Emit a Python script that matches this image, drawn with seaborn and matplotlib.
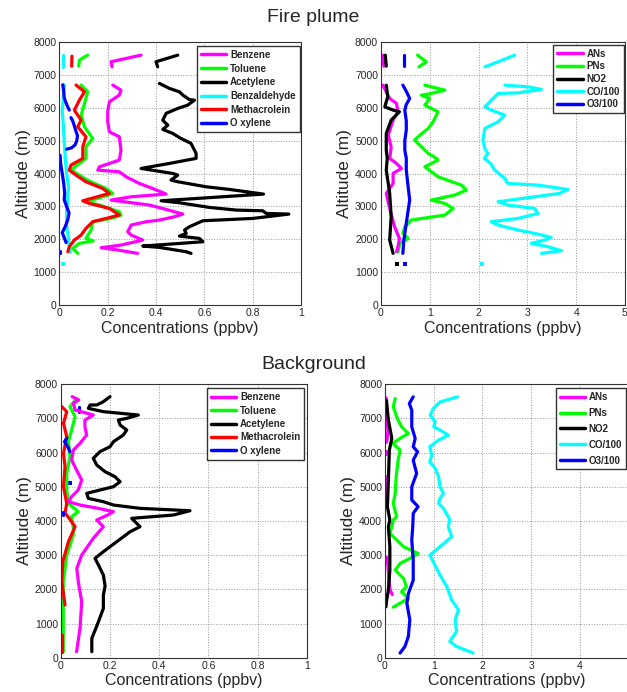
import numpy as np
import pandas as pd
import seaborn as sns
import matplotlib.pyplot as plt
from matplotlib.lines import Line2D

nan = np.nan

# ---- Fire plume, VOCs (ppbv) ; nan separates line pieces ----
fp_benzene_x = [0.338, 0.214, 0.218, nan,
                0.221, 0.255, 0.248, 0.207, 0.200, 0.200, 0.207, 0.248, 0.255, 0.248, 0.166, 0.159,
                0.248, 0.276, 0.331, 0.386, 0.442, 0.297, 0.214, 0.373, 0.442, 0.511, 0.476, 0.414,
                0.359, 0.297, 0.283, 0.297, 0.345, 0.255, 0.173, 0.242, 0.324]
fp_benzene_y = [7600, 7400, 7245, nan,
                6690, 6536, 6384, 6181, 5877, 5573, 5269, 5117, 4712, 4408, 4205, 4103,
                4053, 3901, 3698, 3546, 3374, 3293, 3192, 3040, 2908, 2766, 2685, 2584,
                2533, 2432, 2229, 2128, 1976, 1824, 1743, 1672, 1571]

fp_toluene_x = [0.117, 0.083, 0.080, nan,
                0.090, 0.117, 0.104, 0.090, 0.104, 0.138, 0.110, 0.110, 0.083, 0.048, 0.083, 0.104,
                0.145, 0.193, 0.221, 0.159, 0.110, 0.166, 0.248, 0.255, 0.214, 0.138, 0.131, 0.110,
                0.140, 0.083, 0.055, 0.076]
fp_toluene_y = [7600, 7448, 7265, nan,
                6690, 6485, 6130, 5776, 5421, 5067, 4813, 4459, 4306, 4103, 3951, 3850,
                3698, 3546, 3394, 3242, 3141, 3040, 2837, 2736, 2634, 2533, 2280, 2026,
                1950, 1875, 1723, 1571]

fp_acetylene_x = [0.49, 0.40, 0.407, nan,
                  0.414, 0.455, 0.497, 0.511, 0.538, 0.559, 0.531, 0.49, 0.442, 0.428, 0.449, 0.428,
                  0.469, 0.50, 0.545, 0.566, 0.566, 0.455, 0.338, 0.469, 0.49, 0.462, 0.49, 0.607,
                  0.704, 0.845, 0.421, 0.497, 0.621, 0.732, 0.842, 0.856, 0.950, 0.80, 0.594, 0.538,
                  0.518, 0.525, 0.497, 0.58, 0.594, 0.538, 0.345, 0.414, 0.525, 0.545]
fp_acetylene_y = [7600, 7400, 7245, nan,
                  6740, 6590, 6485, 6385, 6250, 6230, 6080, 5980, 5830, 5620, 5470, 5340,
                  5220, 5080, 4915, 4610, 4460, 4306, 4154, 4002, 3951, 3800, 3750, 3597,
                  3516, 3374, 3171, 3110, 2969, 2888, 2867, 2786, 2766, 2634, 2563, 2381,
                  2280, 2179, 2097, 2026, 1925, 1895, 1794, 1753, 1621, 1571]

fp_benzaldehyde_x = [0.014, 0.014, nan,
                     0.021, 0.016, 0.012, 0.016, 0.020, 0.024, 0.030, 0.038, 0.034, 0.030, 0.030,
                     0.038, 0.045, nan, 0.017]
fp_benzaldehyde_y = [7600, 7245, nan,
                     6690, 6300, 5900, 5500, 5000, 4500, 4000, 3600, 3200, 2800, 2400,
                     2000, 1600, nan, 1247]

fp_methacrolein_x = [0.052, 0.051, nan,
                     0.069, 0.104, 0.083, 0.062, 0.090, 0.076, 0.110, 0.097, 0.097, 0.048, 0.041,
                     0.069, 0.110, 0.179, 0.207, 0.097, 0.124, 0.207, 0.248, 0.138, 0.110, 0.090,
                     0.062, 0.041, 0.035]
fp_methacrolein_y = [7569, 7265, nan,
                     6690, 6485, 6232, 5928, 5624, 5421, 5117, 4813, 4459, 4255, 4103,
                     3951, 3749, 3546, 3394, 3171, 3090, 2938, 2736, 2533, 2331, 2128,
                     1976, 1773, 1621]

fp_oxylene_x = [0.014, 0.018, 0.020, 0.030, 0.041, nan,
                0.048, 0.055, 0.062, 0.068, 0.075, 0.072, 0.065, 0.050, 0.030, nan,
                0.003, 0.005, 0.012, 0.018, 0.022, 0.020, 0.030, 0.040, 0.035, 0.025, 0.012,
                0.020, 0.028, nan, 0.003, 0.003]
fp_oxylene_y = [6700, 6500, 6300, 6100, 5930, nan,
                5700, 5600, 5450, 5300, 5150, 5000, 4870, 4780, 4740, nan,
                4550, 4300, 4000, 3700, 3400, 3200, 3000, 2800, 2600, 2400, 2200,
                2050, 1900, nan, 1650, 1580]

# ---- Fire plume, nitrogen species / CO / O3 ----
fp_ans_x = [0.04, 0.06, nan,
            0.04, 0.18, 0.32, 0.35, 0.25, 0.15, 0.21, 0.18, 0.32, 0.42, 0.25, 0.25, 0.11,
            0.18, 0.28, 0.38, 0.35, 0.32]
fp_ans_y = [7600, 7265, nan,
            6687, 6282, 6130, 5877, 5624, 5168, 4813, 4459, 4306, 4154, 4002, 3698, 3394,
            2938, 2381, 2026, 1773, 1621]

fp_pns_x = [0.75, 0.93, 0.78, nan,
            0.90, 1.31, 1.03, 0.83, 1.00, 0.90, 1.17, 1.07, 0.97, 0.80, 0.69, 0.83, 0.90,
            0.97, 1.14, 1.17, 0.90, 1.17, 1.65, 1.75, 1.51, 1.03, 1.31, 1.48, 1.31, 0.62,
            0.49, 0.45, 0.56, 0.39, 0.35]
fp_pns_y = [7600, 7397, 7245, nan,
            6687, 6536, 6434, 6384, 6282, 6080, 5877, 5573, 5371, 5168, 5016, 4813, 4711,
            4611, 4459, 4407, 4205, 3901, 3647, 3495, 3343, 3192, 3090, 2938, 2736, 2584,
            2381, 2179, 2026, 1875, 1621]

fp_no2_x = [0.09, 0.11, nan,
            0.11, 0.14, 0.08, 0.25, 0.38, 0.21, 0.11, 0.11, 0.13, 0.11, 0.15, 0.18, 0.21,
            0.18, 0.25, nan, 0.34]
fp_no2_y = [7600, 7265, nan,
            6687, 6333, 6029, 5928, 5877, 5624, 5219, 4712, 4459, 4103, 3700, 3394, 2685,
            1976, 1571, nan, 1247]

fp_co_x = [2.74, 2.40, 2.13, nan,
           2.54, 3.02, 3.29, 2.81, 2.40, 2.30, 2.13, 2.26, 2.54, 2.40, 2.13, 2.09, 2.13,
           2.19, 2.12, 2.25, 2.33, 2.54, 2.60, 3.22, 3.83, 3.66, 3.15, 2.40, 2.61, 3.15,
           3.22, 2.81, 2.26, 2.40, 2.81, 3.15, 3.49, 3.36, 3.08, 3.42, 3.70, 3.29, nan, 2.07]
fp_co_y = [7600, 7397, 7245, nan,
           6687, 6637, 6556, 6454, 6434, 6282, 6029, 5928, 5776, 5573, 5371, 5016, 4760,
           4610, 4460, 4300, 4103, 3850, 3698, 3647, 3516, 3394, 3293, 3141, 3040, 2938,
           2786, 2634, 2533, 2432, 2280, 2179, 2057, 1976, 1875, 1773, 1652, 1571, nan, 1247]

fp_o3_x = [0.47, 0.47, nan,
           0.45, 0.52, 0.59, 0.52, 0.49, 0.52, 0.52, 0.49, 0.49, 0.52, 0.52, 0.55, 0.59,
           0.55, 0.52, 0.47, 0.45, nan, 0.49]
fp_o3_y = [7600, 7265, nan,
           6687, 6500, 6282, 6100, 5928, 5600, 5320, 5000, 4712, 4459, 4103, 3700, 3192,
           2800, 2482, 1976, 1571, nan, 1247]

# ---- Background, VOCs ----
bg_benzene_x = [0.046, 0.073, 0.051, 0.058, 0.132, 0.098, 0.098, 0.105, 0.078, 0.051, 0.044,
                0.064, 0.085, 0.071, 0.044, 0.031, 0.078, 0.153, 0.214, 0.190, 0.146, 0.173,
                0.132, 0.085, 0.065, 0.071, 0.085, 0.078, 0.064]
bg_benzene_y = [7636, 7538, 7441, 7246, 7099, 6953, 6758, 6514, 6270, 6075, 5783,
                5491, 5198, 4906, 4711, 4565, 4467, 4370, 4272, 4175, 4029, 3834,
                3493, 3005, 2615, 2225, 1640, 860, 178]

bg_toluene_x = [0.065, 0.037, 0.058, 0.044, 0.031, 0.037, 0.024, 0.024, 0.031, 0.071, 0.044,
                0.051, 0.051, 0.024, 0.010, 0.010, 0.010]
bg_toluene_y = [7587, 7343, 7051, 6661, 6319, 5881, 5393, 4906, 4515, 4272, 4126,
                3785, 3600, 3005, 2225, 1250, 178]

bg_acetylene_x = [0.200, 0.173, 0.146, 0.119, 0.112, 0.173, 0.315, 0.268, 0.234, 0.241, 0.268,
                  0.254, 0.214, 0.200, 0.159, 0.132, 0.146, 0.180, 0.220, 0.241, 0.214, 0.159,
                  0.105, 0.112, 0.173, 0.214, 0.322, 0.525, 0.458, 0.288, 0.322, 0.282, 0.173,
                  0.139, 0.153, 0.173, 0.180, 0.173, 0.173, 0.150, 0.126, 0.126]
bg_acetylene_y = [7636, 7489, 7392, 7392, 7294, 7197, 7099, 7002, 6953, 6807, 6661,
                  6514, 6319, 6173, 6027, 5832, 5637, 5442, 5296, 5149, 5003, 4906,
                  4808, 4662, 4564, 4467, 4370, 4301, 4175, 4078, 3834, 3688, 3103,
                  2908, 2713, 2420, 2100, 1835, 1445, 1000, 568, 178]

bg_methacrolein_x = [0.004, 0.024, 0.011, 0.024, 0.011, 0.017, 0.011, 0.024, 0.017, 0.024,
                     0.058, 0.031, 0.008, 0.004, 0.017, nan, 0.004, 0.004]
bg_methacrolein_y = [7343, 7197, 6856, 6465, 5978, 5588, 5003, 4515, 4223, 4175,
                     3834, 3396, 2810, 2225, 1543, nan, 665, 178]

bg_oxylene_x = [0.074, 0.074, nan, 0.024, 0.015, 0.030, 0.037, nan, 0.037, nan, 0.010, 0.010]
bg_oxylene_y = [7343, 7197, nan, 6417, 6320, 6150, 6027, nan, 5100, nan, 4270, 4175]

# ---- Background, nitrogen species / CO / O3 ----
bg_ans_x = [0.02, 0.03, 0.06, 0.05, 0.03, nan, 0.02, 0.02, nan, 0.02, 0.03, 0.02, nan,
            0.03, 0.06, 0.08, 0.10, 0.15]
bg_ans_y = [7600, 7100, 6650, 6450, 6300, nan, 6050, 5950, nan, 5300, 4900, 4500, nan,
            2950, 2700, 2300, 2000, 1850]

bg_pns_x = [0.21, 0.17, 0.24, 0.34, 0.48, 0.31, 0.16, 0.31, 0.27, 0.23, 0.21, 0.17, 0.24,
            0.17, 0.14, 0.10, 0.38, 0.68, 0.58, 0.31, 0.21, 0.38, 0.44, 0.34, 0.48, 0.17]
bg_pns_y = [7580, 7340, 7045, 6755, 6560, 6415, 6270, 6075, 5780, 5295, 4810, 4515, 4125,
            4030, 3835, 3640, 3250, 3050, 2955, 2760, 2565, 2320, 2080, 1930, 1740, 1480]

bg_no2_x = [0.03, 0.07, 0.14, 0.09, 0.07, 0.05, 0.10, 0.07, 0.10, 0.10, 0.07, 0.03, 0.02]
bg_no2_y = [7530, 6950, 6415, 6075, 5200, 4420, 4030, 3835, 3250, 2565, 1980, 1640, 1490]

bg_co_x = [1.49, 1.13, 0.99, 0.93, 1.03, 1.00, 1.13, 1.30, 1.10, 0.92, 0.96, 0.92, 1.03,
           1.10, 1.13, 1.20, 1.13, 1.10, 1.20, 1.30, 1.33, 1.30, 1.37, 1.13, 0.92, 0.99,
           1.13, 1.27, 1.37, 1.51, 1.44, 1.47, 1.33, 1.47, 1.81]
bg_co_y = [7630, 7480, 7290, 7095, 6900, 6755, 6660, 6510, 6365, 6170, 5930, 5730, 5540,
           5295, 5000, 4810, 4660, 4515, 4370, 4125, 4030, 3835, 3540, 3250, 3000, 2810,
           2420, 2080, 1690, 1400, 1110, 770, 480, 330, 140]

bg_o3_x = [0.58, 0.50, 0.55, 0.55, 0.62, 0.58, 0.67, 0.58, 0.65, 0.55, 0.55, 0.68, 0.58,
           0.57, 0.55, 0.58, 0.58, 0.48, 0.45, 0.51, 0.48, 0.41, 0.31]
bg_o3_y = [7630, 7435, 7240, 6755, 6415, 6170, 6025, 5780, 5390, 5000, 4615, 4420, 4225,
           3835, 3440, 2855, 2270, 1880, 1590, 1110, 625, 330, 140]

MAG, GRN, BLK, CYN, RED, BLU = '#ff00ff', '#00ff00', '#000000', '#00ffff', '#ff0000', '#0000ff'

sns.set_style('white')
plt.rcParams['font.family'] = ['Liberation Sans', 'DejaVu Sans']


def draw(ax, xs, ys, color):
    xs = np.asarray(xs, dtype=float)
    ys = np.asarray(ys, dtype=float)
    df = pd.DataFrame({'conc': xs, 'alt': ys, 'seg': np.cumsum(np.isnan(xs))}).dropna()
    n = df['seg'].map(df['seg'].value_counts())
    lines = df[n > 1]
    dots = df[n == 1]
    sns.lineplot(data=lines, x='conc', y='alt', units='seg', estimator=None, sort=False,
                 color=color, lw=2.3, ax=ax)
    if len(dots):
        sns.scatterplot(data=dots, x='conc', y='alt', color=color, marker='s', s=5,
                        linewidth=0, ax=ax)


def style(ax, xmax, xticks, xlabels):
    ax.set_xlim(0, xmax)
    ax.set_ylim(0, 8000)
    ax.set_xticks(xticks)
    ax.set_xticklabels(xlabels)
    ax.set_yticks(range(0, 8001, 1000))
    ax.grid(True, ls=':', color='#9a9a9a', lw=0.7)
    ax.tick_params(direction='in', labelsize=7.5, length=3, pad=2)
    ax.set_xlabel('Concentrations (ppbv)', fontsize=11.5, labelpad=2)
    ax.set_ylabel('Altitude (m)', fontsize=12.5, labelpad=2)
    for s in ax.spines.values():
        s.set_color('#333333')
        s.set_linewidth(0.8)


def legend(ax, names, colors, anchor, spacing):
    handles = [Line2D([0], [0], color=c, lw=2.5) for c in colors]
    ax.legend(handles, names, loc='upper right', bbox_to_anchor=anchor, fancybox=False,
              edgecolor='#333333', framealpha=1, handlelength=2.6, handletextpad=0.4,
              labelspacing=spacing, borderpad=0.4, borderaxespad=0,
              prop={'weight': 'bold', 'size': 7})


fig = plt.figure(figsize=(6.27, 6.92), dpi=100)
ax1 = fig.add_axes([0.0947, 0.5592, 0.3853, 0.3801])
ax2 = fig.add_axes([0.6075, 0.5592, 0.3892, 0.3801])
ax3 = fig.add_axes([0.0970, 0.0494, 0.3923, 0.3954])
ax4 = fig.add_axes([0.6140, 0.0494, 0.3884, 0.3954])

vticks = [0, 0.2, 0.4, 0.6, 0.8, 1]
vlabels = ['0', '0.2', '0.4', '0.6', '0.8', '1']
nticks = [0, 1, 2, 3, 4, 5]
nlabels = ['0', '1', '2', '3', '4', '5']

# Fire plume VOCs
draw(ax1, fp_benzaldehyde_x, fp_benzaldehyde_y, CYN)
draw(ax1, fp_oxylene_x, fp_oxylene_y, BLU)
draw(ax1, fp_toluene_x, fp_toluene_y, GRN)
draw(ax1, fp_methacrolein_x, fp_methacrolein_y, RED)
draw(ax1, fp_benzene_x, fp_benzene_y, MAG)
draw(ax1, fp_acetylene_x, fp_acetylene_y, BLK)
style(ax1, 1, vticks, vlabels)
legend(ax1, ['Benzene', 'Toluene', 'Acetylene', 'Benzaldehyde', 'Methacrolein', 'O xylene'],
       [MAG, GRN, BLK, CYN, RED, BLU], (0.995, 0.985), 0.38)

# Fire plume N species
draw(ax2, fp_co_x, fp_co_y, CYN)
draw(ax2, fp_pns_x, fp_pns_y, GRN)
draw(ax2, fp_o3_x, fp_o3_y, BLU)
draw(ax2, fp_ans_x, fp_ans_y, MAG)
draw(ax2, fp_no2_x, fp_no2_y, BLK)
style(ax2, 5, nticks, nlabels)
legend(ax2, ['ANs', 'PNs', 'NO2', 'CO/100', 'O3/100'],
       [MAG, GRN, BLK, CYN, BLU], (0.995, 0.99), 0.28)

# Background VOCs
draw(ax3, bg_toluene_x, bg_toluene_y, GRN)
draw(ax3, bg_methacrolein_x, bg_methacrolein_y, RED)
draw(ax3, bg_oxylene_x, bg_oxylene_y, BLU)
draw(ax3, bg_benzene_x, bg_benzene_y, MAG)
draw(ax3, bg_acetylene_x, bg_acetylene_y, BLK)
style(ax3, 1, vticks, vlabels)
legend(ax3, ['Benzene', 'Toluene', 'Acetylene', 'Methacrolein', 'O xylene'],
       [MAG, GRN, BLK, RED, BLU], (0.99, 0.985), 0.35)

# Background N species (right edge and the 5 label fall outside the picture)
draw(ax4, bg_co_x, bg_co_y, CYN)
draw(ax4, bg_pns_x, bg_pns_y, GRN)
draw(ax4, bg_o3_x, bg_o3_y, BLU)
draw(ax4, bg_ans_x, bg_ans_y, MAG)
draw(ax4, bg_no2_x, bg_no2_y, BLK)
style(ax4, 5, nticks, nlabels[:5] + [''])
legend(ax4, ['ANs', 'PNs', 'NO2', 'CO/100', 'O3/100'],
       [MAG, GRN, BLK, CYN, BLU], (0.99, 0.985), 0.6)

fig.text(0.5, 0.974, 'Fire plume', ha='center', va='center', fontsize=14)
fig.text(0.5, 0.473, 'Background', ha='center', va='center', fontsize=14)

fig.savefig('out.png', dpi=100)
